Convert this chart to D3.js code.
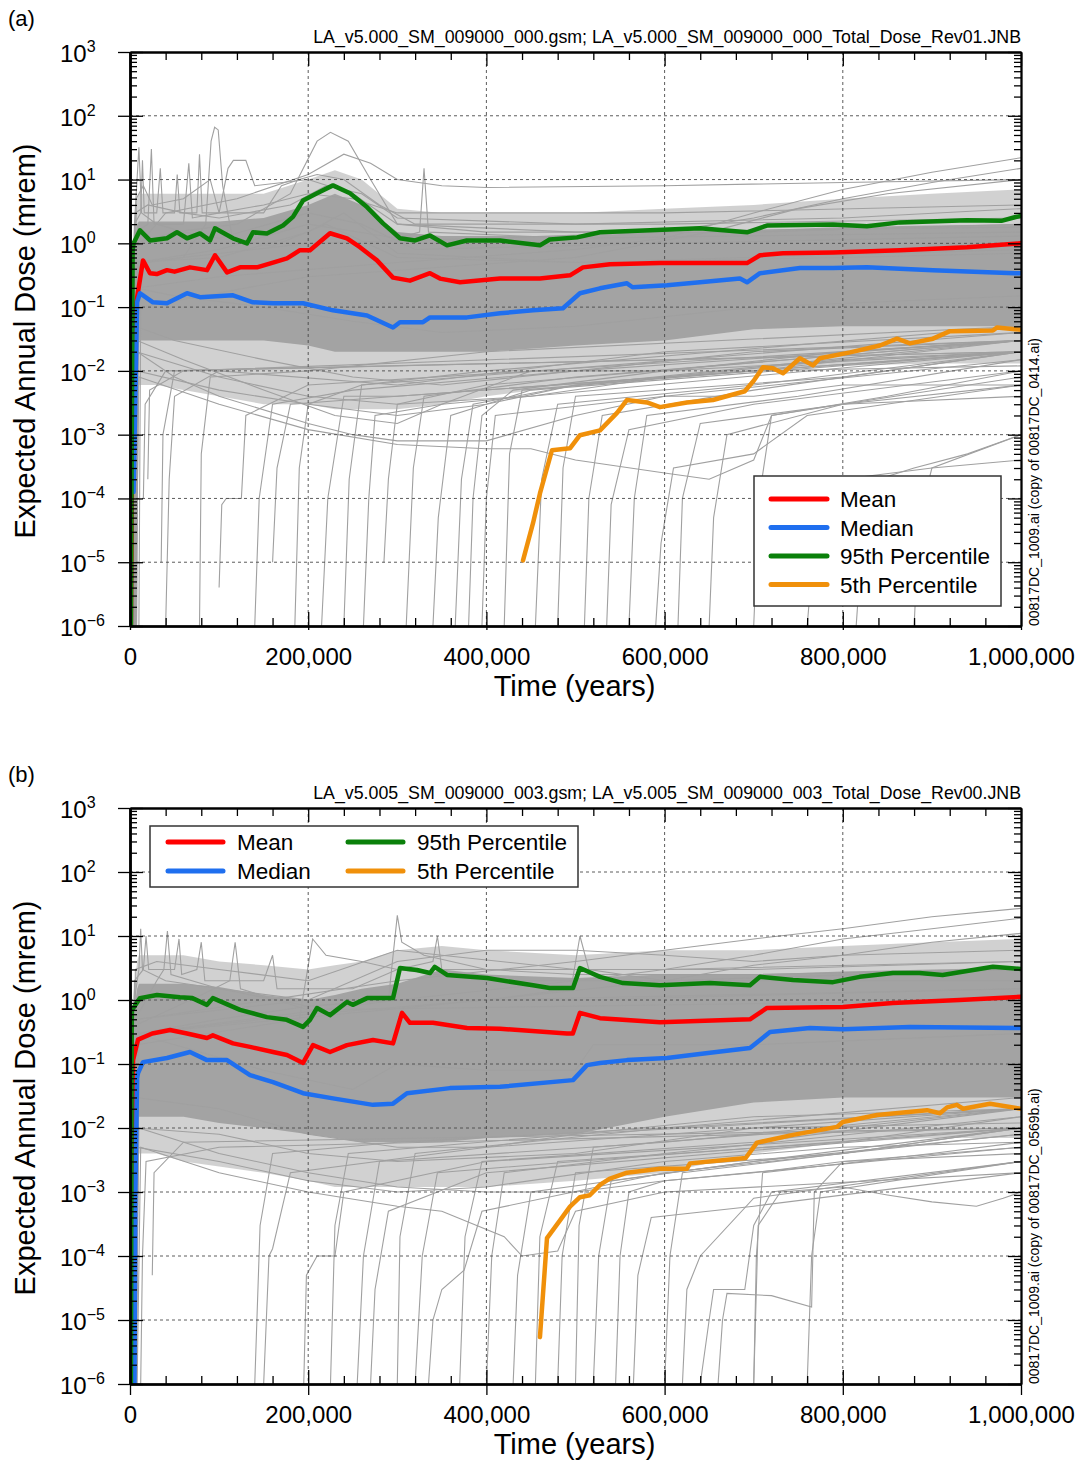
<!DOCTYPE html>
<html>
<head>
<meta charset="utf-8">
<script src="https://cdn.jsdelivr.net/npm/d3@7"></script>
<style>
  body { margin: 0; background: #fff; }
  text { font-family: "Liberation Sans", Arial, sans-serif; }
</style>
</head>
<body>
<svg width="1083" height="1465"></svg>
<script>
// time in thousands of years (kyr), dose in mrem
var xMajor = [0, 200, 400, 600, 800, 1000];
var decades = [-6, -5, -4, -3, -2, -1, 0, 1, 2, 3];
var legendLabels = ["Mean", "Median", "95th Percentile", "5th Percentile"];

// density bands of the realization cloud
var bandTimes = [1, 3, 8, 10, 30, 60, 100, 150, 200, 230, 260, 300, 350, 400, 500, 600, 700, 800, 900, 1000];
var aCoreHi = [1e-6, 0.5, 2, 2.2, 2.2, 2.2, 2.2, 2.5, 4, 6, 4, 1.5, 1.3, 1.3, 1.3, 1.5, 1.6, 1.8, 1.9, 2];
var aCoreLo = [1e-6, 1e-6, 1e-6, 0.03, 0.03, 0.03, 0.03, 0.03, 0.025, 0.02, 0.02, 0.02, 0.02, 0.02, 0.025, 0.03, 0.045, 0.05, 0.05, 0.05];
var aMidHi = [1e-6, 1, 5, 6, 6, 6, 6, 6, 10, 14, 10, 3.5, 3, 3, 3, 3.5, 4, 5, 6, 7];
var aMidLo = [1e-6, 1e-6, 1e-6, 0.006, 0.006, 0.005, 0.004, 0.003, 0.003, 0.0025, 0.0025, 0.0025, 0.003, 0.004, 0.006, 0.008, 0.01, 0.012, 0.013, 0.013];
var bCoreHi = [1e-6, 0.5, 1.5, 1.8, 1.8, 1.8, 1.6, 1.2, 1, 1.2, 1.5, 1.8, 3, 2.5, 2.2, 2.5, 2.5, 2.8, 3, 3.2];
var bCoreLo = [1e-6, 1e-6, 1e-6, 0.015, 0.015, 0.015, 0.012, 0.01, 0.008, 0.007, 0.006, 0.006, 0.006, 0.007, 0.008, 0.015, 0.025, 0.03, 0.03, 0.03];
var bMidHi = [1e-6, 1, 4, 5, 5, 5, 4, 3.5, 3, 3.5, 4, 6, 7, 6, 5, 6, 6, 7, 8, 9];
var bMidLo = [1e-6, 1e-6, 1e-6, 0.004, 0.004, 0.003, 0.0025, 0.002, 0.0015, 0.0012, 0.0012, 0.0012, 0.0012, 0.0012, 0.0015, 0.002, 0.004, 0.006, 0.007, 0.007];

// panel (a) statistics
var aMean = [[1,1e-6],[3.4,0.056],[14.6,0.54],[22.4,0.34],[30,0.33],[41.5,0.38],[50,0.36],[67.3,0.42],[86.4,0.38],[95.4,0.65],[108.9,0.35],[123.5,0.42],[142.5,0.42],[160.5,0.5],[176.2,0.58],[190.8,0.78],[202,0.78],[224.5,1.44],[243.5,1.2],[258.1,0.87],[277.2,0.54],[295.2,0.29],[314.2,0.26],[336.7,0.34],[347.9,0.28],[370.4,0.245],[415.3,0.28],[460.1,0.28],[493.8,0.315],[508.4,0.42],[538.7,0.47],[594.8,0.49],[692.5,0.49],[707.1,0.65],[732.9,0.7],[789,0.72],[864.2,0.78],[939.4,0.87],[1000,1.0]];
var aMedian = [[4,1.26e-4],[8,0.12],[11.2,0.165],[14.6,0.153],[25.8,0.119],[41.5,0.115],[64,0.165],[78.6,0.143],[115.6,0.153],[138,0.119],[160.5,0.115],[194.2,0.115],[227.8,0.089],[266,0.074],[295.2,0.048],[303,0.058],[328.8,0.058],[336.7,0.069],[378.2,0.069],[415.3,0.08],[452.3,0.089],[485.9,0.096],[505,0.165],[527.5,0.197],[557.8,0.236],[564,0.205],[602.7,0.22],[639.7,0.245],[684.6,0.28],[692.5,0.245],[707.1,0.34],[751.9,0.41],[789,0.41],[827.1,0.42],[901.2,0.38],[993.2,0.34],[1000,0.34]];
var a95 = [[1,1e-6],[3,0.8],[4,1.0],[11.2,1.6],[22.4,1.11],[41.5,1.2],[52.7,1.49],[64,1.2],[78.6,1.43],[89.8,1.11],[95.4,1.72],[115.6,1.2],[131.3,1.0],[138,1.49],[153.7,1.43],[171.7,1.9],[182.9,2.6],[194.2,4.7],[209.9,6.1],[227.8,8.1],[246.9,6.1],[266,3.7],[284,2.06],[303,1.2],[320,1.11],[336.7,1.33],[355.8,0.93],[378,1.11],[415.3,1.11],[460.1,0.93],[471,1.15],[501.7,1.24],[527.5,1.49],[583.6,1.6],[639.7,1.72],[692.5,1.49],[714.9,1.9],[789,1.98],[827,1.85],[864.2,2.13],[939.4,2.3],[978,2.25],[993,2.56],[1000,2.7]];
var a05 = [[441.1,1.07e-5],[452.3,4.1e-5],[460.1,1.2e-4],[473.6,5.7e-4],[493.8,6.1e-4],[505,9.8e-4],[527.5,1.17e-3],[546.6,2.2e-3],[557.8,3.5e-3],[580.2,3.2e-3],[594.8,2.7e-3],[625.1,3.2e-3],[654.3,3.5e-3],[690,4.8e-3],[700,7e-3],[710.4,1.14e-2],[721.6,1.1e-2],[732.9,9.2e-3],[751.9,1.58e-2],[766.5,1.22e-2],[774.4,1.58e-2],[808.1,1.95e-2],[841.7,2.5e-2],[860.8,3.2e-2],[875.4,2.7e-2],[901.2,3.2e-2],[920.3,4.2e-2],[968.5,4.3e-2],[973,4.8e-2],[993.2,4.5e-2],[1000,4.4e-2]];

// panel (b) statistics
var bMean = [[1,1e-6],[3.4,0.115],[9,0.24],[25,0.30],[44.9,0.34],[64,0.30],[86.4,0.255],[93,0.28],[115.6,0.21],[134.7,0.185],[160.5,0.154],[176.2,0.138],[194.2,0.104],[205.4,0.197],[224.5,0.154],[243.5,0.197],[272.7,0.237],[295.2,0.21],[305.3,0.63],[314.2,0.44],[340,0.44],[378.2,0.365],[415.3,0.355],[490.4,0.30],[497,0.30],[505,0.63],[527.5,0.52],[594.8,0.45],[695.8,0.5],[714.9,0.75],[800.2,0.78],[856,0.9],[931,1.0],[1000,1.12]];
var bMedian = [[5,1e-6],[6,1e-3],[8,0.06],[9,0.072],[14.6,0.107],[41.5,0.124],[67.3,0.154],[86.4,0.115],[108.9,0.115],[134.7,0.067],[160.5,0.052],[194.2,0.035],[227.8,0.029],[272.7,0.023],[295.2,0.024],[310.9,0.035],[359.1,0.042],[415.3,0.044],[497.2,0.056],[512.9,0.096],[527.5,0.104],[557.8,0.115],[602.7,0.124],[651,0.15],[695.8,0.178],[718.3,0.316],[763.2,0.365],[800.2,0.35],[875.4,0.38],[1000,0.365]];
var b95 = [[1,1e-6],[2,0.5],[2.2,0.7],[11.2,1.07],[30.3,1.2],[56,1.1],[70,1.07],[86.4,0.84],[93,1.07],[123.5,0.7],[153.7,0.54],[176,0.49],[194.2,0.38],[202,0.49],[209.9,0.75],[224.5,0.58],[243.5,0.93],[250,0.84],[266,1.07],[295.2,1.07],[303,3.16],[322,2.94],[336.7,2.64],[342,3.3],[355.8,2.46],[400.7,2.2],[452.3,1.7],[471,1.54],[497.2,1.54],[505,3.16],[527.5,2.3],[553.3,1.84],[594.8,1.7],[651,1.84],[695.8,1.7],[707.1,2.3],[744.1,2.05],[789,1.9],[819,2.3],[856.3,2.64],[886,2.64],[912,2.46],[968.5,3.3],[1000,3.05]];
var b05 = [[460.1,5.4e-6],[468,1.9e-4],[482.6,3.6e-4],[493.8,5.9e-4],[505,8.3e-4],[516,8.9e-4],[527.5,1.29e-3],[538,1.6e-3],[557.8,2e-3],[594.8,2.3e-3],[625,2.3e-3],[628.5,2.8e-3],[691,3.4e-3],[703.7,5.9e-3],[744.1,7.8e-3],[793.5,1.04e-2],[800,1.24e-2],[838.4,1.6e-2],[894.5,1.9e-2],[909,1.7e-2],[917,2.1e-2],[928,2.3e-2],[935,2e-2],[965.2,2.4e-2],[1000,2e-2]];

// individual realizations, panel (a)
var aRealHigh = [
  [[2,1e-6],[4,0.3],[20,0.5],[60,0.6],[85,2],[91,40],[95,66],[99,60],[104,8],[115,1.2],[160,0.9],[220,2],[300,0.6],[500,0.5],[800,0.6],[1000,0.7]],
  [[3,1e-6],[5,2],[10,32],[13,3],[30,2],[60,1.5],[100,1.2],[200,3],[260,2],[320,0.8],[600,1],[1000,1.3]],
  [[3,1e-6],[6,1],[50,1.5],[120,2],[180,6],[210,40],[225,55],[245,40],[270,10],[300,2],[400,1.5],[700,1.5],[1000,2]],
  [[3,1e-6],[6,0.8],[40,3],[120,5],[200,12],[240,25],[270,18],[300,10],[350,8],[400,7.5],[600,8],[800,9],[1000,10]],
  [[3,1e-6],[8,0.5],[100,0.8],[200,2],[300,1.2],[325,1.5],[330,15],[335,1.5],[500,1.2],[1000,1.5]],
  [[5,1e-6],[8,0.2],[100,0.3],[300,0.5],[500,0.8],[600,1.2],[700,3],[800,7],[900,13],[1000,22]],
  [[5,1e-6],[10,0.5],[200,1],[400,1.2],[600,1.5],[700,2.5],[800,5],[900,9],[1000,15]],
  [[10,1e-6],[12,0.1],[200,0.3],[500,0.6],[650,1.5],[750,3.5],[850,6],[1000,10]],
  [[3,1e-6],[5,2],[12,3],[14,20],[16,3],[30,3],[34,15],[37,3],[50,3],[53,12],[56,3],[75,3],[78,25],[81,3],[110,3],[150,3],[170,8],[190,10],[210,12],[240,10],[280,4],[320,2],[600,2],[1000,2.5]],
  [[3,1e-6],[6,1.5],[20,2],[24,30],[27,2],[60,2],[66,18],[70,2.5],[100,3],[110,15],[116,20],[130,20],[140,8],[200,10],[250,6],[300,2],[500,1.5],[1000,1.8]],
  [[3,1e-6],[6,3],[20,4],[60,3],[100,2.5],[180,4],[220,8],[260,6],[300,2.5],[500,2],[800,2.5],[1000,3.5]],
  [[4,1e-6],[7,5],[15,8],[25,4],[60,5],[90,10],[100,3],[150,4],[200,6],[250,5],[300,3],[600,3],[1000,4]],
  [[3,1e-6],[6,0.5],[100,0.6],[200,1.5],[240,3],[300,0.7],[500,0.5],[1000,0.8]]
];
var aRealLow = [
  [[3,1e-6],[6,0.2],[50,0.15],[150,0.1],[250,0.06],[350,0.04],[500,0.05],[700,0.1],[1000,0.15]],
  [[3,1e-6],[6,0.05],[50,0.03],[150,0.015],[250,0.008],[350,0.006],[500,0.01],[700,0.02],[1000,0.03]],
  [[4,1e-6],[7,0.02],[100,0.008],[200,0.004],[300,0.003],[450,0.004],[600,0.008],[800,0.015],[1000,0.02]],
  [[5,1e-6],[8,0.01],[100,0.005],[200,0.003],[300,0.002],[400,0.003],[500,0.006],[700,0.01],[1000,0.012]],
  [[5,1e-6],[8,0.02],[50,0.008],[100,0.004],[200,0.0015],[250,0.001],[300,0.0008],[400,0.0008],[500,0.002],[600,0.004],[700,0.004],[800,0.006],[1000,0.006]],
  [[5,1e-6],[8,0.03],[60,0.015],[150,0.005],[230,0.002],[300,0.0015],[350,0.003],[450,0.01],[600,0.01],[800,0.02],[1000,0.03]],
  [[6,1e-6],[10,0.008],[100,0.003],[200,0.0012],[300,0.0007],[400,0.0006],[450,0.0006],[500,0.0004],[600,0.00025],[650,0.0002],[700,0.0004],[720,0.002],[800,0.003],[1000,0.004]],
  [[15,1e-4],[17,0.003],[40,0.01],[1000,0.02]],
  [[20,2e-4],[22,0.005],[60,0.01],[1000,0.03]],
  [[35,1e-5],[37,0.001],[50,0.01],[1000,0.02]]
];
var aRealLate = [
  [[40,1e-6],[44,2e-4],[50,0.004],[100,0.01],[300,0.006],[600,0.02],[1000,0.04]],
  [[78,1e-6],[80,5e-4],[90,0.008],[200,0.01],[400,0.02],[1000,0.05]],
  [[100,4e-6],[103,8e-5],[108,1e-4],[125,1e-4],[130,0.002],[200,0.006],[1000,0.03]],
  [[140,1e-6],[145,1e-4],[160,0.003],[250,0.005],[500,0.01],[1000,0.03]],
  [[160,1e-5],[165,3e-4],[180,0.003],[300,0.004],[1000,0.02]],
  [[185,1e-6],[190,3e-4],[200,0.003],[260,0.006],[1000,0.04]],
  [[215,1e-6],[222,1e-4],[240,0.004],[300,0.004],[1000,0.02]],
  [[240,1e-6],[246,2e-4],[260,0.006],[400,0.01],[1000,0.05]],
  [[262,1e-6],[268,1e-4],[275,0.002],[350,0.003],[1000,0.02]],
  [[285,1e-5],[290,2e-4],[300,0.003],[400,0.006],[1000,0.03]],
  [[310,1e-6],[318,3e-4],[330,0.004],[500,0.008],[1000,0.03]],
  [[340,1e-6],[346,5e-5],[360,0.002],[450,0.005],[1000,0.02]],
  [[365,1e-6],[372,2e-4],[385,0.003],[500,0.006],[1000,0.03]],
  [[380,1e-6],[385,1e-4],[395,0.002],[430,0.005],[600,0.01],[1000,0.02]],
  [[395,1e-6],[400,1e-4],[410,0.002],[600,0.004],[1000,0.015]],
  [[420,1e-6],[426,5e-4],[440,0.005],[700,0.01],[1000,0.03]],
  [[455,1e-6],[462,2e-4],[480,0.003],[700,0.006],[1000,0.02]],
  [[480,1e-6],[486,3e-4],[500,0.004],[800,0.008],[1000,0.02]],
  [[510,1e-6],[515,1e-4],[530,0.002],[700,0.005],[1000,0.02]],
  [[535,1e-6],[540,8e-5],[560,0.0012],[700,0.003],[1000,0.01]],
  [[560,1e-6],[566,1e-4],[580,0.002],[750,0.004],[1000,0.015]],
  [[590,1e-6],[596,2e-5],[610,3e-4],[700,5e-4],[760,0.002],[1000,0.006]],
  [[615,1e-6],[620,1e-4],[640,0.0015],[800,0.003],[1000,0.008]],
  [[650,1e-6],[655,5e-5],[670,0.001],[800,0.003],[1000,0.006]],
  [[700,1e-6],[706,1e-4],[720,0.002],[850,0.004],[1000,0.01]],
  [[760,1e-6],[766,1e-5],[780,1e-4],[800,2e-4],[900,3e-4],[1000,4e-4]],
  [[815,1e-6],[820,1e-5],[840,2e-4],[880,3e-4],[940,5e-4],[1000,0.001]],
  [[880,1e-6],[886,5e-5],[900,3e-4],[1000,0.001]]
];

// individual realizations, panel (b)
var bRealHigh = [
  [[2,1e-6],[5,1],[10,3],[12,13],[14,3],[40,2],[100,1.5],[200,0.8],[300,1],[500,1],[1000,1.5]],
  [[3,1e-6],[6,0.5],[30,2],[38,3],[42,12],[46,2.5],[100,1.5],[200,1],[400,1],[1000,1.5]],
  [[3,1e-6],[6,0.4],[80,1.2],[112,2],[118,8],[124,1.5],[200,0.7],[1000,1]],
  [[5,1e-6],[8,0.3],[100,0.5],[200,0.8],[290,1],[300,21],[305,8],[330,5],[400,3],[500,2.5],[700,2.5],[1000,3]],
  [[5,1e-6],[8,0.3],[200,0.6],[400,1],[495,1.5],[505,10],[515,3],[600,2],[1000,3]],
  [[5,1e-6],[8,0.2],[190,0.5],[205,9],[220,5],[260,4],[300,3],[400,2],[1000,2]],
  [[5,1e-6],[10,0.5],[300,2],[500,4],[600,6],[700,9],[800,13],[900,20],[1000,27]],
  [[5,1e-6],[10,0.3],[300,1],[500,2],[600,3],[700,5],[800,9],[900,13],[1000,19]],
  [[6,1e-6],[10,0.3],[400,1],[600,2],[700,3.5],[800,5],[900,8],[1000,11]],
  [[5,1e-6],[8,0.5],[200,1],[300,4],[400,6],[500,6],[600,5],[700,4],[800,5],[1000,6]],
  [[3,1e-6],[6,3],[30,4],[100,3],[200,2],[300,6],[350,5],[500,3],[700,3],[1000,4]],
  [[3,1e-6],[5,2],[15,3],[18,10],[21,3],[50,3],[55,9],[58,2.5],[75,3],[80,8],[84,2],[110,2],[150,2],[160,5],[165,1.5],[250,1.5],[300,3],[340,4],[345,10],[350,3],[500,3],[600,3],[1000,4]]
];
var bRealLow = [
  [[3,1e-6],[6,0.3],[50,0.2],[150,0.08],[250,0.04],[300,0.1],[400,0.08],[500,0.08],[520,0.2],[700,0.2],[1000,0.3]],
  [[3,1e-6],[6,0.03],[100,0.02],[200,0.008],[300,0.005],[400,0.005],[500,0.008],[700,0.015],[1000,0.02]],
  [[4,1e-6],[7,0.005],[100,0.003],[200,0.0015],[300,0.001],[400,0.0012],[600,0.003],[800,0.005],[1000,0.006]],
  [[4,1e-6],[7,0.01],[100,0.008],[200,0.004],[300,0.003],[500,0.004],[700,0.01],[1000,0.012]],
  [[6,1e-6],[10,0.01],[100,0.004],[200,0.002],[300,0.0012],[400,0.001],[500,0.001],[600,0.0015],[700,0.002],[800,0.003],[1000,0.004]],
  [[8,1e-6],[12,0.005],[100,0.002],[200,0.001],[300,0.0006],[350,0.0005],[420,0.0002],[440,0.0001],[480,0.00012],[500,0.0005],[600,0.001],[1000,0.002]],
  [[700,1e-6],[705,3e-4],[730,1e-3],[800,1.2e-3],[850,9e-4],[900,7e-4],[950,6e-4],[980,8e-4],[1000,1e-3]],
  [[660,1e-6],[665,1e-5],[670,2.6e-5],[720,2.4e-5],[765,1.6e-5],[768,1e-3],[800,3e-3],[1000,5e-3]],
  [[640,1e-6],[650,1e-5],[655,3e-5],[690,3e-5],[700,3e-4],[720,1e-3],[1000,3e-3]],
  [[12,1e-6],[14,1e-4],[18,0.003],[100,0.005],[1000,0.01]],
  [[25,5e-5],[27,2e-3],[60,0.006],[1000,0.01]]
];
var bRealLate = [
  [[140,1e-6],[146,3e-4],[160,0.004],[300,0.006],[1000,0.02]],
  [[150,1e-6],[153,1e-5],[156,1e-4],[160,1.3e-4],[180,0.002],[400,0.005],[1000,0.02]],
  [[195,1e-6],[198,5e-5],[210,1e-4],[230,1e-4],[240,0.001],[400,0.003],[1000,0.01]],
  [[225,1e-6],[230,3e-4],[245,0.004],[500,0.008],[1000,0.02]],
  [[255,1e-6],[262,1e-4],[280,0.003],[600,0.006],[1000,0.02]],
  [[270,1e-6],[275,3e-5],[290,5e-4],[400,0.002],[1000,0.01]],
  [[300,1e-6],[303,2e-4],[320,0.004],[600,0.01],[1000,0.03]],
  [[320,1e-6],[328,1e-4],[345,0.002],[500,0.003],[1000,0.01]],
  [[335,1e-6],[340,1e-5],[350,3e-5],[375,6e-5],[395,5e-4],[600,0.002],[1000,0.008]],
  [[370,1e-6],[376,2e-4],[395,0.003],[700,0.006],[1000,0.02]],
  [[400,1e-6],[406,1e-4],[420,0.002],[600,0.004],[1000,0.015]],
  [[430,1e-6],[435,5e-5],[450,0.001],[700,0.003],[1000,0.01]],
  [[455,1e-6],[460,2e-4],[480,0.003],[800,0.006],[1000,0.015]],
  [[480,1e-6],[485,1e-4],[500,0.002],[800,0.004],[1000,0.01]],
  [[500,1e-6],[504,3e-4],[520,0.005],[800,0.01],[1000,0.02]],
  [[520,1e-6],[526,1e-4],[540,0.0015],[700,0.003],[1000,0.008]],
  [[545,1e-6],[550,1e-4],[560,1e-3],[600,0.0015],[1000,0.005]],
  [[565,1e-6],[570,5e-5],[585,4e-4],[700,6e-4],[1000,0.002]],
  [[600,1e-6],[606,1e-4],[620,0.002],[800,0.004],[1000,0.01]],
  [[620,1e-6],[625,3e-5],[640,1e-4],[700,8e-4],[1000,0.003]],
  [[700,1e-6],[703,1e-4],[710,0.002],[900,0.004],[1000,0.006]],
  [[760,1e-6],[765,1e-4],[775,0.001],[1000,0.003]]
];

var RED = "#ff0000", BLUE = "#1f6fef", GREEN = "#0a800a", ORANGE = "#f0900a", GRAY = "#a0a0a0";
var svg = d3.select("svg");
var X0 = 130, X1 = 1021;

var xMinor = d3.range(0, 1001, 40).filter(function(d) { return d % 200 !== 0; });
var yMinor = [];
decades.slice(0, -1).forEach(function(k) {
  for (var m = 2; m <= 9; m++) yMinor.push(m * Math.pow(10, k));
});

function styleAxis(sel, w) {
  sel.select(".domain").attr("stroke", "#000").attr("stroke-width", w || 2.2);
  sel.selectAll(".tick line").attr("stroke", "#000").attr("stroke-width", 1.3);
}

function drawPanel(p) {
  var x = d3.scaleLinear().domain([0, 1000]).range([X0, X1]);
  var y = d3.scaleLog().domain([1e-6, 1e3]).range([p.bottom, p.top]);
  var g = svg.append("g");

  g.append("clipPath").attr("id", "clip" + p.id)
    .append("rect").attr("x", X0).attr("y", p.top)
    .attr("width", X1 - X0).attr("height", p.bottom - p.top);
  var plot = g.append("g").attr("clip-path", "url(#clip" + p.id + ")");

  function band(lo, hi) {
    return d3.area()
      .x(function(d, i) { return x(bandTimes[i]); })
      .y0(function(d, i) { return y(lo[i]); })
      .y1(function(d, i) { return y(hi[i]); })(bandTimes);
  }
  plot.append("path").attr("d", band(p.midLo, p.midHi)).attr("fill", "#a3a3a3").attr("opacity", 0.5);
  plot.append("path").attr("d", band(p.coreLo, p.coreHi)).attr("fill", "#a3a3a3");

  var line = d3.line()
    .x(function(d) { return x(d[0]); })
    .y(function(d) { return y(d[1]); });

  plot.selectAll("path.real")
    .data(p.gray)
    .join("path")
    .attr("class", "real")
    .attr("d", line)
    .attr("fill", "none")
    .attr("stroke", GRAY)
    .attr("stroke-width", 1.1);

  // dashed grid
  plot.selectAll("line.gy")
    .data(decades.slice(1, -1))
    .join("line")
    .attr("class", "gy")
    .attr("x1", X0).attr("x2", X1)
    .attr("y1", function(k) { return y(Math.pow(10, k)); })
    .attr("y2", function(k) { return y(Math.pow(10, k)); });
  plot.selectAll("line.gx")
    .data(xMajor.slice(1, -1))
    .join("line")
    .attr("class", "gx")
    .attr("x1", x).attr("x2", x)
    .attr("y1", p.top).attr("y2", p.bottom);
  plot.selectAll("line.gy, line.gx")
    .attr("stroke", "#4a4a4a").attr("stroke-width", 0.9).attr("stroke-dasharray", "3,3");

  var stats = [[p.mean, RED], [p.median, BLUE], [p.p95, GREEN], [p.p05, ORANGE]];
  stats.forEach(function(s) {
    plot.append("path")
      .attr("d", line(s[0]))
      .attr("fill", "none")
      .attr("stroke", s[1])
      .attr("stroke-width", 4.5)
      .attr("stroke-linejoin", "round")
      .attr("stroke-linecap", "round");
  });

  // axes
  var bottom = g.append("g").attr("transform", "translate(0," + p.bottom + ")");
  bottom.append("g").call(d3.axisBottom(x).tickValues(xMinor).tickSizeInner(-8).tickSizeOuter(0).tickFormat("")).call(styleAxis);
  bottom.append("g").call(d3.axisBottom(x).tickValues(xMajor).tickSizeInner(p.tickOut).tickSizeOuter(0).tickFormat("")).call(styleAxis);
  bottom.append("g")
    .call(d3.axisBottom(x).tickValues(xMajor).tickSizeInner(-14).tickSizeOuter(0).tickPadding(22)
      .tickFormat(function(d) { return d3.format(",")(d * 1000); }))
    .call(styleAxis)
    .attr("font-size", 24).attr("font-family", "Liberation Sans, Arial, sans-serif")
    .selectAll("text").attr("fill", "#000");

  var top = g.append("g").attr("transform", "translate(0," + p.top + ")");
  top.append("g").call(d3.axisTop(x).tickValues(xMinor).tickSizeInner(-8).tickSizeOuter(0).tickFormat("")).call(styleAxis);
  top.append("g").call(d3.axisTop(x).tickValues(xMajor).tickSizeInner(-14).tickSizeOuter(0).tickFormat("")).call(styleAxis);

  var dec = decades.map(function(k) { return Math.pow(10, k); });
  var left = g.append("g").attr("transform", "translate(" + X0 + ",0)");
  left.append("g").call(d3.axisLeft(y).tickValues(yMinor).tickSizeInner(-7).tickSizeOuter(0).tickFormat("")).call(styleAxis);
  left.append("g").call(d3.axisLeft(y).tickValues(dec).tickSizeInner(12).tickSizeOuter(0).tickFormat("")).call(styleAxis);
  left.append("g").call(d3.axisLeft(y).tickValues(dec).tickSizeInner(-13).tickSizeOuter(0).tickFormat("")).call(styleAxis);

  var right = g.append("g").attr("transform", "translate(" + X1 + ",0)");
  right.append("g").call(d3.axisRight(y).tickValues(yMinor).tickSizeInner(-7).tickSizeOuter(0).tickFormat("")).call(styleAxis, 1.8);
  right.append("g").call(d3.axisRight(y).tickValues(dec).tickSizeInner(-13).tickSizeOuter(0).tickFormat("")).call(styleAxis, 1.8);

  // y tick labels with superscripts
  decades.forEach(function(k) {
    var t = g.append("text")
      .attr("x", 60).attr("y", y(Math.pow(10, k)) + 10)
      .attr("font-size", 24).attr("fill", "#000");
    t.append("tspan").text("10");
    t.append("tspan").attr("dy", -10).attr("font-size", 16)
      .text(k < 0 ? "\u2212" + (-k) : String(k));
  });

  // labels
  g.append("text").attr("x", 8).attr("y", p.tagY).attr("font-size", 22).text(p.tag);
  g.append("text").attr("x", X1).attr("y", p.titleY).attr("text-anchor", "end")
    .attr("font-size", 17.8).text(p.title);
  g.append("text").attr("x", (X0 + X1) / 2 - 1).attr("y", p.bottom + 70)
    .attr("text-anchor", "middle").attr("font-size", 29).text("Time (years)");
  g.append("text")
    .attr("transform", "translate(35," + ((p.top + p.bottom) / 2 + 2) + ") rotate(-90)")
    .attr("text-anchor", "middle").attr("font-size", 29).text("Expected Annual Dose (mrem)");
  g.append("text")
    .attr("transform", "translate(1039," + p.bottom + ") rotate(-90)")
    .attr("font-size", 14).text(p.side);

  // legend
  var L = p.legend;
  g.append("rect").attr("x", L.box[0]).attr("y", L.box[1]).attr("width", L.box[2]).attr("height", L.box[3])
    .attr("fill", "#fff").attr("stroke", "#333").attr("stroke-width", 1.5);
  var colors = [RED, BLUE, GREEN, ORANGE];
  L.items.forEach(function(it, i) {
    g.append("line").attr("x1", it[0]).attr("x2", it[1]).attr("y1", it[2]).attr("y2", it[2])
      .attr("stroke", colors[i]).attr("stroke-width", 5).attr("stroke-linecap", "round");
    g.append("text").attr("x", it[3]).attr("y", it[2] + 8).attr("font-size", 22.5).text(legendLabels[i]);
  });
}

drawPanel({
  id: "a", top: 52, bottom: 626, tickOut: 4,
  tag: "(a)", tagY: 26,
  title: "LA_v5.000_SM_009000_000.gsm; LA_v5.000_SM_009000_000_Total_Dose_Rev01.JNB", titleY: 43,
  side: "00817DC_1009.ai (copy of 00817DC_0414.ai)",
  coreLo: aCoreLo, coreHi: aCoreHi, midLo: aMidLo, midHi: aMidHi,
  gray: aRealLate.concat(aRealLow, aRealHigh),
  mean: aMean, median: aMedian, p95: a95, p05: a05,
  legend: { box: [754, 476, 247, 130],
    items: [[771, 827, 499, 840], [771, 827, 527.5, 840], [771, 827, 556, 840], [771, 827, 584.5, 840]] }
});

drawPanel({
  id: "b", top: 808, bottom: 1384, tickOut: 11,
  tag: "(b)", tagY: 782,
  title: "LA_v5.005_SM_009000_003.gsm; LA_v5.005_SM_009000_003_Total_Dose_Rev00.JNB", titleY: 799,
  side: "00817DC_1009.ai (copy of 00817DC_0569b.ai)",
  coreLo: bCoreLo, coreHi: bCoreHi, midLo: bMidLo, midHi: bMidHi,
  gray: bRealLate.concat(bRealLow, bRealHigh),
  mean: bMean, median: bMedian, p95: b95, p05: b05,
  legend: { box: [150, 826, 428, 61],
    items: [[168, 223, 842, 237], [168, 223, 871, 237], [348, 403, 842, 417], [348, 403, 871, 417]] }
});
</script>
</body>
</html>
